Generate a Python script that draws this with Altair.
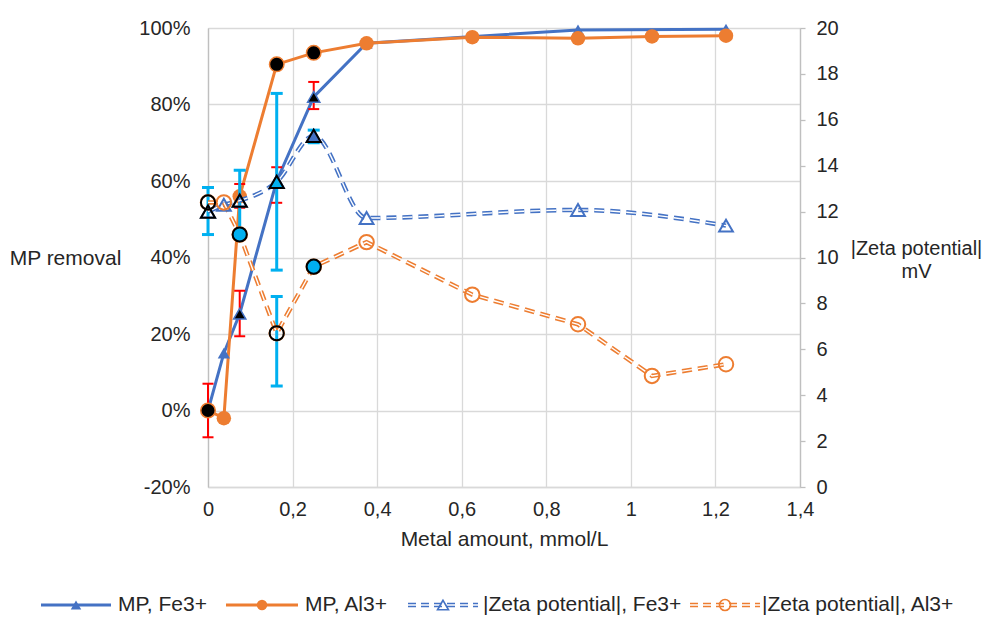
import altair as alt
import pandas as pd

# ---------------- data ----------------
x_fe = [0, 0.0375, 0.075, 0.1625, 0.25, 0.375, 0.875, 1.225]
mp_fe = [0, 15, 25.3, 60, 82, 96, 99.5, 99.7]
zeta_fe = [12.0, 12.3, 12.48, 13.3, 15.3, 11.72, 12.07, 11.39]

x_al = [0, 0.0375, 0.075, 0.1625, 0.25, 0.375, 0.625, 0.875, 1.05, 1.225]
mp_al = [0, -2, 56, 90.5, 93.5, 96, 97.6, 97.3, 97.8, 98]
zeta_al = [12.4, 12.4, 11.0, 6.7, 9.6, 10.67, 8.38, 7.09, 4.84, 5.35]

# error bars (MP removal, %)
mp_err_x = [0, 0.075, 0.075, 0.1625, 0.25]
mp_err_lo = [-7, 19.4, 53, 54.3, 78.8]
mp_err_hi = [7, 31.3, 59.2, 63.6, 85.9]
# error bars (|zeta|, mV)
z_err_x = [0, 0.075, 0.1625, 0.1625, 0.25]
z_err_lo = [11.0, 10.9, 9.45, 4.4, 15.0]
z_err_hi = [13.05, 13.8, 17.15, 8.3, 15.55]

# measured points drawn with black markers
mp_fe_hl_x = [0.075, 0.1625, 0.25]
mp_fe_hl_y = [25.3, 60, 82]
mp_al_hl_x = [0, 0.1625, 0.25]
mp_al_hl_y = [0, 90.5, 93.5]
z_hl_series = ["Fe", "Fe", "Fe", "Fe", "Al", "Al", "Al", "Al"]
z_hl_x = [0, 0.075, 0.1625, 0.25, 0, 0.075, 0.1625, 0.25]
z_hl_y = [12.0, 12.48, 13.3, 15.3, 12.4, 11.0, 6.7, 9.6]
z_hl_kind = ["open", "open", "cyan", "blue", "open", "cyan", "open", "cyan"]

x_ticks = [0, 0.2, 0.4, 0.6, 0.8, 1.0, 1.2, 1.4]
left_ticks = [-20, 0, 20, 40, 60, 80, 100]
right_ticks = list(range(0, 21, 2))
legend_labels = ["MP, Fe3+", "MP, Al3+", "|Zeta potential|, Fe3+", "|Zeta potential|, Al3+"]

# ---------------- style ----------------
FONT = "Liberation Sans"
TXT = "#262626"
BLUE = "#4472C4"
ORANGE = "#ED7D31"
RED = "#FF0000"
CYAN = "#00B0F0"
GRID = "#D9D9D9"
AXIS = "#BFBFBF"
FS = 20
FS_BIG = 21
W, H = 592, 459
DASH = [10, 6]

df_fe = pd.DataFrame({"x": x_fe, "y": mp_fe, "z": zeta_fe})
df_al = pd.DataFrame({"x": x_al, "y": mp_al, "z": zeta_al})
df_mperr = pd.DataFrame({"x": mp_err_x, "y": mp_err_lo, "y2": mp_err_hi})
df_mpcap = pd.DataFrame({"x": mp_err_x + mp_err_x, "y": mp_err_lo + mp_err_hi})
df_zerr = pd.DataFrame({"x": z_err_x, "z": z_err_lo, "z2": z_err_hi})
df_zcap = pd.DataFrame({"x": z_err_x + z_err_x, "z": z_err_lo + z_err_hi})
df_fe_hl = pd.DataFrame({"x": mp_fe_hl_x, "y": mp_fe_hl_y})
df_al_hl = pd.DataFrame({"x": mp_al_hl_x, "y": mp_al_hl_y})
df_zhl = pd.DataFrame({"x": z_hl_x, "z": z_hl_y, "s": z_hl_series, "k": z_hl_kind})

x_enc = alt.X(
    "x:Q",
    scale=alt.Scale(domain=[0, 1.4], nice=False, zero=False),
    axis=alt.Axis(
        values=x_ticks,
        labelExpr="replace(format(datum.value, '~g'), '.', ',')",
        title="Metal amount, mmol/L",
        grid=True, gridColor=GRID, gridWidth=1.3,
        domainColor=GRID, domainWidth=1.3, ticks=False,
        labelFlush=False, labelOverlap=False,
        labelPadding=12, titlePadding=9,
        labelFontSize=FS, titleFontSize=FS_BIG, titleFontWeight="normal",
        labelColor=TXT, titleColor=TXT, labelFont=FONT, titleFont=FONT,
    ),
)
y_left = alt.Y(
    "y:Q",
    scale=alt.Scale(domain=[-20, 100], nice=False, zero=False),
    axis=alt.Axis(
        values=left_ticks, labelExpr="datum.value + '%'",
        grid=True, gridColor=GRID, gridWidth=1.3,
        domainColor=AXIS, domainWidth=1.3, ticks=False, labelPadding=18,
        title="MP removal", titleAngle=0, titleX=-143, titleY=230,
        titleAlign="center", titleBaseline="middle",
        labelFontSize=FS, titleFontSize=FS_BIG, titleFontWeight="normal",
        labelColor=TXT, titleColor=TXT, labelFont=FONT, titleFont=FONT,
    ),
)
y_right = alt.Y(
    "z:Q",
    scale=alt.Scale(domain=[0, 20], nice=False, zero=False),
    axis=alt.Axis(
        orient="right", values=right_ticks, grid=False,
        domainColor=AXIS, domainWidth=1.3, tickColor=AXIS, tickSize=5, tickWidth=1.3,
        labelPadding=11,
        title=["|Zeta potential|", "mV"], titleAngle=0, titleX=116, titleY=220,
        titleAlign="center", titleBaseline="middle", titleLineHeight=23,
        labelFontSize=FS, titleFontSize=FS, titleFontWeight="normal",
        labelColor=TXT, titleColor=TXT, labelFont=FONT, titleFont=FONT,
    ),
)

# ---------------- left axis group (MP removal) ----------------
mp_fe_line = alt.Chart(df_fe).mark_line(color=BLUE, strokeWidth=3).encode(x=x_enc, y=y_left)
mp_al_line = alt.Chart(df_al).mark_line(color=ORANGE, strokeWidth=3).encode(x=x_enc, y=y_left)
red_bars = alt.Chart(df_mperr).mark_rule(color=RED, strokeWidth=2).encode(
    x=x_enc, y=y_left, y2="y2:Q")
red_caps = alt.Chart(df_mpcap).mark_tick(
    color=RED, orient="horizontal", size=11, thickness=2, opacity=1).encode(x=x_enc, y=y_left)
mp_fe_pts = alt.Chart(df_fe).mark_point(
    shape="triangle-up", filled=True, color=BLUE, size=150, opacity=1).encode(x=x_enc, y=y_left)
mp_al_pts = alt.Chart(df_al).mark_point(
    shape="circle", filled=True, color=ORANGE, size=210, opacity=1).encode(x=x_enc, y=y_left)
mp_fe_black = alt.Chart(df_fe_hl).mark_point(
    shape="triangle-up", filled=True, fill="black", stroke=BLUE, strokeWidth=1.5,
    size=150, opacity=1).encode(x=x_enc, y=y_left)
mp_al_black = alt.Chart(df_al_hl).mark_point(
    shape="circle", filled=True, fill="black", stroke=ORANGE, strokeWidth=1.5,
    size=210, opacity=1).encode(x=x_enc, y=y_left)

left = alt.layer(mp_fe_line, mp_al_line, red_bars, red_caps,
                 mp_fe_pts, mp_al_pts, mp_fe_black, mp_al_black)

# ---------------- right axis group (|zeta|) ----------------
cyan_bars = alt.Chart(df_zerr).mark_rule(color=CYAN, strokeWidth=3).encode(
    x=x_enc, y=y_right, y2="z2:Q")
cyan_caps = alt.Chart(df_zcap).mark_tick(
    color=CYAN, orient="horizontal", size=12, thickness=3, opacity=1).encode(x=x_enc, y=y_right)
zfe_outer = alt.Chart(df_fe).mark_line(
    color=BLUE, strokeWidth=4.5, strokeDash=DASH, interpolate="monotone").encode(x=x_enc, y=y_right)
zfe_inner = alt.Chart(df_fe).mark_line(
    color="white", strokeWidth=1.4, strokeDash=DASH, interpolate="monotone").encode(x=x_enc, y=y_right)
zal_outer = alt.Chart(df_al).mark_line(
    color=ORANGE, strokeWidth=4.5, strokeDash=DASH).encode(x=x_enc, y=y_right)
zal_inner = alt.Chart(df_al).mark_line(
    color="white", strokeWidth=1.4, strokeDash=DASH).encode(x=x_enc, y=y_right)
zfe_pts = alt.Chart(df_fe).mark_point(
    shape="triangle-up", filled=False, color=BLUE, strokeWidth=2, size=190, opacity=1).encode(
    x=x_enc, y=y_right)
zal_pts = alt.Chart(df_al).mark_point(
    shape="circle", filled=False, color=ORANGE, strokeWidth=2, size=210, opacity=1).encode(
    x=x_enc, y=y_right)
z_black = alt.Chart(df_zhl).mark_point(
    filled=True, stroke="black", strokeWidth=2, size=200, opacity=1).encode(
    x=x_enc, y=y_right,
    shape=alt.Shape("s:N", scale=alt.Scale(domain=["Fe", "Al"], range=["triangle-up", "circle"]),
                    legend=None),
    fill=alt.Fill("k:N", scale=alt.Scale(domain=["open", "cyan", "blue"],
                                         range=["transparent", CYAN, BLUE]), legend=None),
)

# ---------------- legend (below the plot) ----------------
leg = pd.DataFrame({
    "label": legend_labels,
    "x0": [-167, 18, 200, 482],
    "x1": [-97, 90, 270, 552],
    "xm": [-132, 54, 235, 517],
    "xt": [-90, 97, 275, 554],
    "ly": [577, 577, 577, 577],
})
LX0 = alt.X("x0:Q", scale=None)
LX1 = alt.X2("x1:Q")
LXM = alt.X("xm:Q", scale=None)
LXT = alt.X("xt:Q", scale=None)
LY = alt.Y("ly:Q", scale=None)


def legend_item(label, color, shape, dashed, hollow):
    base = alt.Chart(leg).transform_filter(alt.datum.label == label)
    layers = []
    if dashed:
        layers.append(base.mark_rule(color=color, strokeWidth=4.5, strokeDash=[8, 5]).encode(
            x=LX0, x2=LX1, y=LY))
        layers.append(base.mark_rule(color="white", strokeWidth=1.4, strokeDash=[8, 5]).encode(
            x=LX0, x2=LX1, y=LY))
    else:
        layers.append(base.mark_rule(color=color, strokeWidth=3).encode(x=LX0, x2=LX1, y=LY))
    if hollow:
        layers.append(base.mark_point(shape=shape, filled=False, color=color, strokeWidth=1.6,
                                      size=120, opacity=1).encode(x=LXM, y=LY))
    else:
        layers.append(base.mark_point(shape=shape, filled=True, color=color,
                                      size=110, opacity=1).encode(x=LXM, y=LY))
    layers.append(base.mark_text(align="left", baseline="middle", fontSize=FS_BIG, font=FONT,
                                 color=TXT).encode(x=LXT, y=LY, text="label:N"))
    return layers


legend_layers = (
    legend_item(legend_labels[0], BLUE, "triangle-up", False, False)
    + legend_item(legend_labels[1], ORANGE, "circle", False, False)
    + legend_item(legend_labels[2], BLUE, "triangle-up", True, True)
    + legend_item(legend_labels[3], ORANGE, "circle", True, True)
)

right = alt.layer(cyan_bars, cyan_caps, zfe_outer, zfe_inner, zal_outer, zal_inner,
                  zfe_pts, zal_pts, z_black, *legend_layers)

chart = (
    alt.layer(left, right)
    .resolve_scale(y="independent")
    .properties(
        width=W, height=H,
        padding={"left": 200, "top": 20, "right": 185, "bottom": 128},
        autosize=alt.AutoSizeParams(type="none"),
    )
    .configure_view(stroke=None)
    .configure(font=FONT)
)

chart.save("out.html", embed_options={"renderer": "svg", "actions": False})
